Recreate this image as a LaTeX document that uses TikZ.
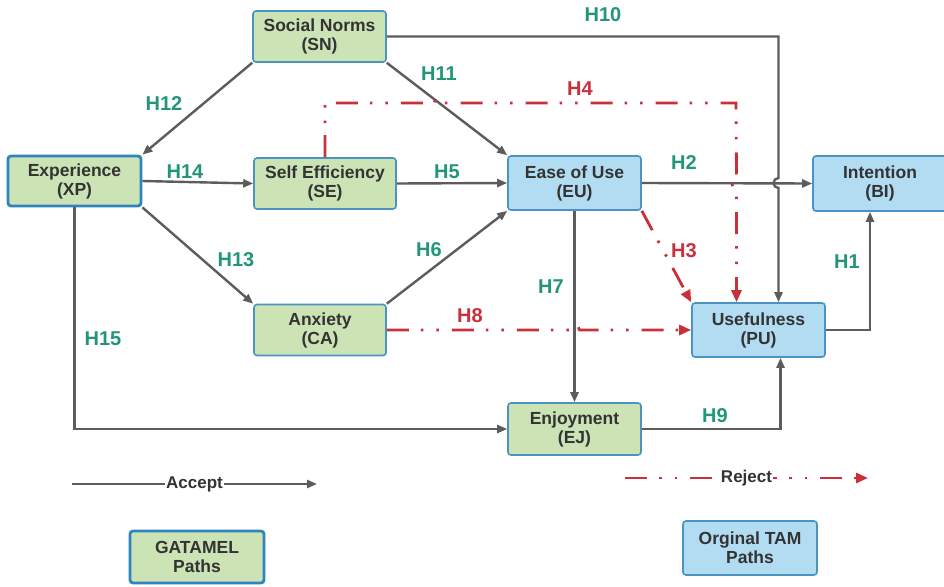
\documentclass[tikz,border=0pt]{standalone}
\usepackage{fontspec}
\setmainfont{Liberation Sans}
\usetikzlibrary{arrows.meta,calc}
\definecolor{grn}{HTML}{CBE3B5}
\definecolor{blu}{HTML}{B2DCF2}
\definecolor{bord}{HTML}{4A94C4}
\definecolor{bordd}{HTML}{2E84BE}
\definecolor{txt}{HTML}{333333}
\definecolor{lgrn}{HTML}{22957A}
\definecolor{lred}{HTML}{C8303C}
\definecolor{lgrey}{HTML}{5C5C5C}
\begin{document}
\begin{tikzpicture}[x=1pt,y=1pt,
  box/.style={draw=bord, line width=1.6pt, rounded corners=3pt, align=center, inner sep=0pt,
    text=txt, font=\fontsize{17.5}{19}\selectfont\bfseries},
  gbox/.style={box, fill=grn},
  bbox/.style={box, fill=blu},
  thick box/.style={draw=bordd, line width=2.8pt},
  hlab/.style={font=\fontsize{20}{22}\selectfont\bfseries, text=lgrn, inner sep=0pt},
  rlab/.style={hlab, text=lred},
  accept/.style={draw=lgrey, line width=2.4pt, -{Triangle[length=10pt,width=8pt]}},
  reject/.style={draw=lred, line width=2.8pt, line cap=butt,
    dash pattern=on 22pt off 12pt on 2.5pt off 13pt on 2.5pt off 13pt,
    -{Triangle[length=12pt,width=10pt]}},
  legtext/.style={fill=white, inner sep=1pt, text=txt, font=\fontsize{17}{19}\selectfont\bfseries}
]
\useasboundingbox[fill=white] (0,0) rectangle (944,-586);

% nodes
\node[gbox, minimum width=133pt, minimum height=51pt] (SN) at (319.5,-36.5) {Social Norms\\(SN)};
\node[gbox, thick box, minimum width=133pt, minimum height=50pt] (XP) at (74.5,-181) {Experience\\(XP)};
\node[gbox, minimum width=142pt, minimum height=51pt] (SE) at (325,-183.5) {Self Efficiency\\(SE)};
\node[bbox, minimum width=133pt, minimum height=54pt] (EU) at (574.5,-183) {Ease of Use\\(EU)};
\node[bbox, minimum width=134pt, minimum height=55pt] (BI) at (880,-183.5) {Intention\\(BI)};
\node[gbox, minimum width=132pt, minimum height=51pt] (CA) at (320,-330) {Anxiety\\(CA)};
\node[bbox, minimum width=133pt, minimum height=54pt] (PU) at (758.5,-330) {Usefulness\\(PU)};
\node[gbox, minimum width=133pt, minimum height=52pt] (EJ) at (574.5,-429) {Enjoyment\\(EJ)};
\node[gbox, thick box, minimum width=134pt, minimum height=52pt] (GA) at (197,-557) {GATAMEL\\Paths};
\node[bbox, minimum width=134pt, minimum height=54pt] (TAM) at (750,-548) {Orginal TAM\\Paths};

% accepted paths
\draw[accept] (SN.south west) -- (XP.north east);
\draw[accept] (SN.south east) -- (EU.north west);
\draw[accept] (SN.east) -- ($(SN.east -| PU.north)+(20,0)$)
   -- ($(EU.east -| PU.north)+(20,5)$) arc[start angle=90,end angle=270,radius=5pt]
   -- ($(PU.north)+(20,0)$);
\draw[accept] (XP.east) -- (SE.west);
\draw[accept] (XP.south east) -- (CA.north west);
\draw[accept] (XP.south) |- (EJ.west);
\draw[accept] (SE.east) -- (EU.west);
\draw[accept] (CA.north east) -- (EU.south west);
\draw[accept] (EU.east) -- (BI.west);
\draw[accept] (EU.south) -- (EJ.north);
\draw[accept] (EJ.east) -| ($(PU.south)+(22,0)$);
\draw[accept] (PU.east) -| ($(BI.south)+(-10,0)$);

% rejected paths
\draw[reject] (EU.south east) -- (PU.north west);
\draw[reject] (SE.north) |- (434,-103) arc[start angle=180,end angle=0,radius=5pt]
   -- ($(SE.north |- 0,-103)+(411,0)$)
   -- ($(EU.east -| PU.north)+(-22,5)$) arc[start angle=90,end angle=270,radius=5pt]
   -- ($(PU.north)+(-22,0)$);
\draw[reject] (CA.east) -- ($(CA.east -| EJ.north)+(-5,0)$) arc[start angle=180,end angle=0,radius=5pt]
   -- (PU.west);

% hypothesis labels
\node[hlab] (H10) at (603,-15) {H10};
\node[hlab] (H12) at (164,-104) {H12};
\node[hlab] (H11) at (439,-74) {H11};
\node[hlab] (H14) at (185,-172) {H14};
\node[hlab] (H5) at (447,-172) {H5};
\node[rlab] (H4) at (580,-89) {H4};
\node[hlab] (H2) at (684,-163) {H2};
\node[hlab] (H13) at (236,-260) {H13};
\node[hlab] (H6) at (429,-250) {H6};
\node[hlab] (H15) at (103,-339) {H15};
\node[rlab] (H8) at (470,-316) {H8};
\node[rlab] (H3) at (684,-251) {H3};
\node[hlab] (H1) at (847,-262) {H1};
\node[hlab] (H7) at (551,-287) {H7};
\node[hlab] (H9) at (715,-416) {H9};

% legend
\coordinate (a1) at (72,-484);
\coordinate (a2) at (317,-484);
\draw[accept] (a1) -- node[legtext] (acc) {Accept} (a2);
\coordinate (r1) at (625,-478);
\coordinate (r2) at (868,-478);
\draw[reject] (r1) -- node[legtext] (rej) {Reject} (r2);
\end{tikzpicture}
\end{document}
